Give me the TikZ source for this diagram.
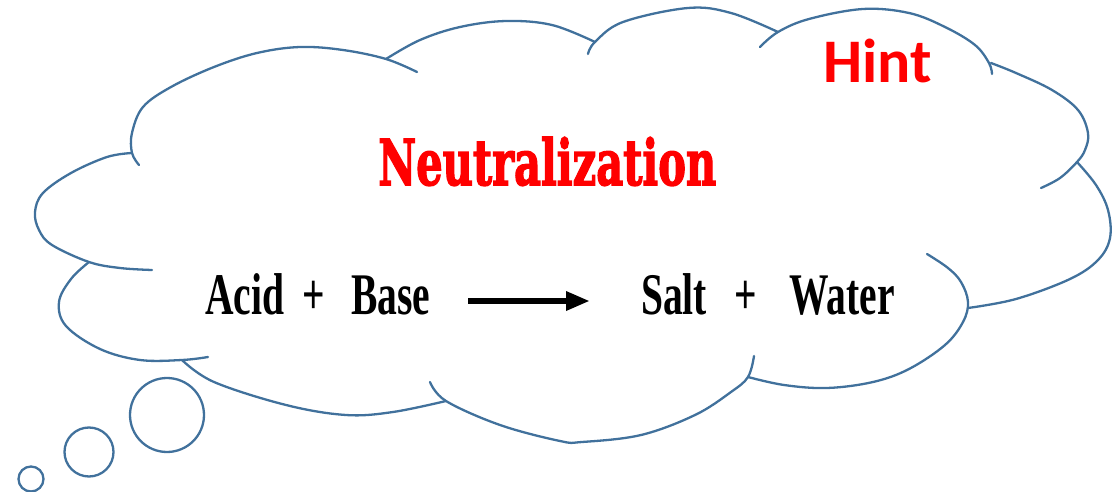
\documentclass[tikz,border=0pt]{standalone}
\usepackage{fontspec}
\setmainfont{Liberation Serif}
\newfontfamily\hintfont{Carlito}
\newfontfamily\titlefont[FakeBold=2.5]{DejaVu Serif Bold}
\usetikzlibrary{arrows.meta}
\definecolor{cloudline}{HTML}{41719C}
\definecolor{hintred}{HTML}{FF0000}
\tikzset{
  lobe/.style={draw=cloudline, line width=2.3pt, line cap=round},
  puff/.style={draw=cloudline, line width=2.3pt},
  word/.style={anchor=base west, inner sep=0pt, text=black,
               font=\bfseries\fontsize{59}{60}\selectfont},
  reaction/.style={line width=6.5pt, -{Triangle[length=24pt,width=18pt]}},
}
\newcommand{\narrow}[1]{\scalebox{0.67}[1]{#1}}
\begin{document}
\begin{tikzpicture}[x=1pt,y=-1pt]
\useasboundingbox (0,0) rectangle (1112,492);

% cloud outline, one arc per lobe
\draw[lobe] plot[smooth, tension=0.6] coordinates {(139,165) (132,153) (132,133) (143,107) (171,87) (214,67) (257,53) (300,47) (343,50) (386,59) (417,72)};
\draw[lobe] plot[smooth, tension=0.6] coordinates {(132,153) (107,157) (71,173) (43,193) (35,212) (39,230) (52,245) (89,262) (120,268) (152,270)};
\draw[lobe] plot[smooth, tension=0.6] coordinates {(89,262) (71,279) (59,302) (66,326) (100,349) (140,360) (182,360) (208,357)};
\draw[lobe] plot[smooth, tension=0.6] coordinates {(182,360) (214,382) (286,405) (346,415) (393,412) (446,401)};
\draw[lobe] plot[smooth, tension=0.6] coordinates {(430,382) (446,401) (500,425) (560,441) (582,442) (641,435) (695,415) (731,392) (748,377) (754,356)};
\draw[lobe] plot[smooth, tension=0.6] coordinates {(748,377) (784,385) (827,388) (873,382) (909,369) (945,345) (963,322) (968,302) (961,282) (948,268) (927,254)};
\draw[lobe] plot[smooth, tension=0.6] coordinates {(968,308) (1016,299) (1070,279) (1098,260) (1110,238) (1108,210) (1096,185) (1077,162)};
\draw[lobe] plot[smooth, tension=0.6] coordinates {(991,63) (1016,73) (1052,90) (1078,110) (1088,133) (1085,150) (1077,162) (1060,178) (1041,188)};
\draw[lobe] plot[smooth, tension=0.6] coordinates {(760,47) (778,32) (809,19) (863,9) (909,13) (945,27) (975,45) (989,63) (992,74)};
\draw[lobe] plot[smooth, tension=0.6] coordinates {(588,54) (595,42) (623,22) (688,8) (731,13) (778,32)};
\draw[lobe] plot[smooth, tension=0.6] coordinates {(386,59) (420,40) (460,27) (506,21) (552,25) (595,42)};

% thought bubbles
\draw[puff] (167,415) circle[radius=37];
\draw[puff] (89,452) circle[radius=24.5];
\draw[puff] (31,479) circle[radius=12.5];

% labels
\node[anchor=base west, inner sep=0pt, text=hintred,
      font=\hintfont\bfseries\fontsize{62}{62}\selectfont] (hint) at (823,83) {Hint};
\node[anchor=base west, inner sep=0pt, text=hintred] (title) at (378,185)
     {\resizebox{338pt}{48pt}{\titlefont Neutralization}};

% reaction equation
\node[word] (acid)  at (205,314) {\narrow{Acid}};
\node[word] (plusA) at (302,314) {\narrow{+}};
\node[word] (base)  at (351,314) {\narrow{Base}};
\node[word] (salt)  at (641,314) {\narrow{Salt}};
\node[word] (plusB) at (734,314) {\narrow{+}};
\node[word] (water) at (789,314) {\narrow{Water}};

\coordinate (arrowS) at (468,301);
\coordinate (arrowE) at (590,301);
\draw[reaction] (arrowS) -- (arrowE);
\end{tikzpicture}
\end{document}
